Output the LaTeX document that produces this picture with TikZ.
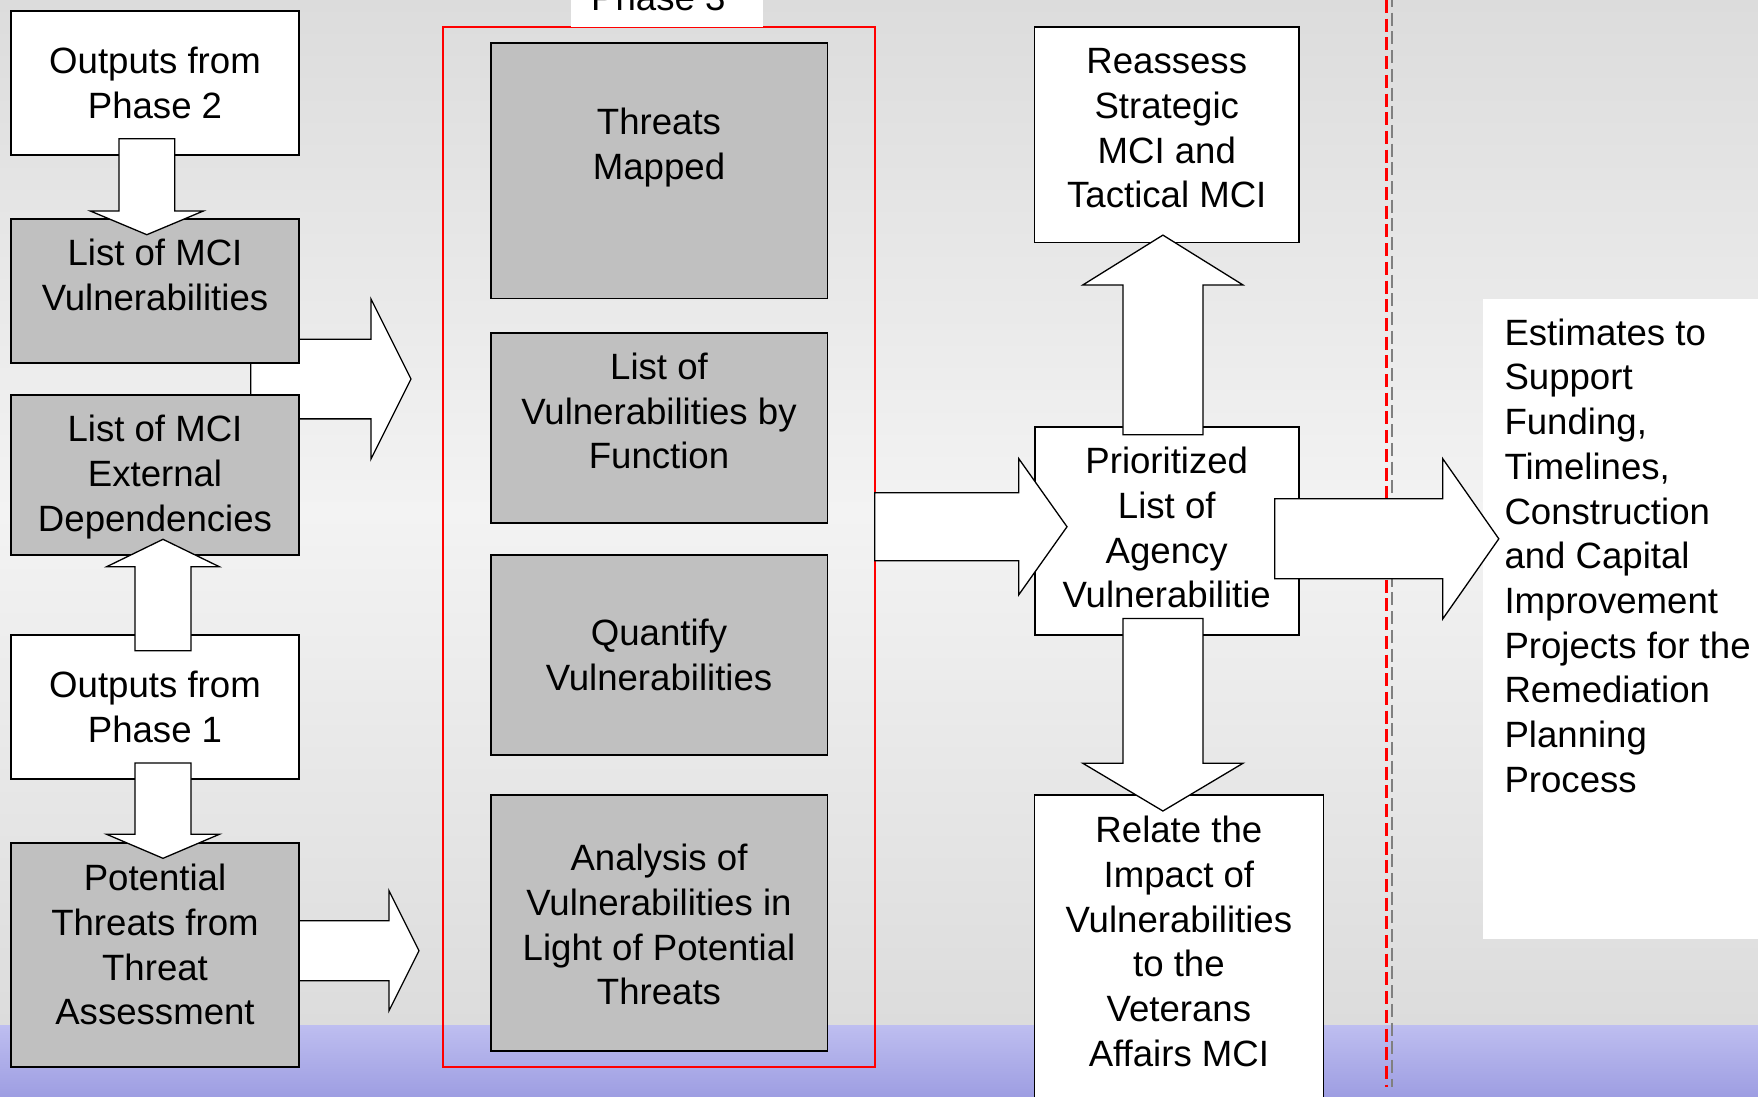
\documentclass[tikz,border=0pt]{standalone}
\usepackage{fontspec}
\setmainfont{Liberation Sans}
\usetikzlibrary{calc}

\definecolor{bgedge}{RGB}{220,220,220}
\definecolor{bgmid}{RGB}{243,243,243}
\definecolor{bandtop}{RGB}{190,190,240}
\definecolor{bandbot}{RGB}{158,158,226}
\definecolor{boxgray}{RGB}{192,192,192}
\definecolor{dashgray}{RGB}{128,128,128}

\pgfdeclarelayer{bg}
\pgfdeclarelayer{back}
\pgfsetlayers{bg,back,main}

\newcommand\bigfont{\fontsize{36.6}{44.7}\selectfont}
% block arrow: from, tip, half shaft, half head, head length
\newcommand\blockarr[5]{%
\coordinate (hb) at ($(#2)!#5pt!(#1)$);
\draw[blockarrow] ($(#1)!#3pt!90:(#2)$) -- ($(hb)!#3pt!90:(#2)$) -- ($(hb)!#4pt!90:(#2)$) -- (#2)
  -- ($(hb)!#4pt!-90:(#2)$) -- ($(hb)!#3pt!-90:(#2)$) -- ($(#1)!#3pt!-90:(#2)$) -- cycle;
}

\tikzset{
box/.style={draw=black, line width=1.6pt, minimum width=288pt, inner sep=0pt, outer sep=0pt, align=center, font=\bigfont},
graybox/.style={box, fill=boxgray},
whitebox/.style={box, fill=white},
colbox/.style={graybox, minimum width=336.6pt},
txt/.style={align=center, font=\bigfont, inner sep=0pt},
blockarrow/.style={draw=black, fill=white, line width=1.3pt, line join=miter},
}

\begin{document}
\begin{tikzpicture}[x=1pt, y=-1pt]
\useasboundingbox (0,0) rectangle (1758,1096);

% left column
\node[whitebox, minimum height=143.5pt] (outtwo) at (155,83) {Outputs from\\Phase 2};
\node[graybox, minimum height=144.3pt] (vulnlist) at (155,290.85) {};
\node[txt] (vulnlisttxt) at ([yshift=16pt]vulnlist.center) {List of MCI\\Vulnerabilities};
\node[graybox, minimum height=160pt] (extdep) at (155,474.7) {};
\node[txt] (extdeptxt) at ([yshift=-2.5pt]extdep.center) {List of MCI\\External\\Dependencies};
\node[whitebox, minimum height=144pt] (outone) at (155,706.7) {Outputs from\\Phase 1};
\node[graybox, minimum height=224pt] (threats) at (155,954.7) {};
\node[txt] (threatstxt) at ([yshift=10pt]threats.center) {Potential\\Threats from\\Threat\\Assessment};

% phase 3
\node[colbox, minimum height=255.6pt] (mapped) at (659,170.5) {};
\node[txt] (mappedtxt) at ([yshift=23pt]mapped.center) {Threats\\Mapped};
\node[colbox, minimum height=190.1pt] (byfunc) at (659,428.05) {};
\node[txt] (byfunctxt) at ([yshift=17pt]byfunc.center) {List of\\Vulnerabilities by\\Function};
\node[colbox, minimum height=200.1pt] (quantify) at (659,654.85) {Quantify\\Vulnerabilities};
\node[colbox, minimum height=255.8pt] (analysis) at (659,922.8) {};
\node[txt] (analysistxt) at ([yshift=-2pt]analysis.center) {Analysis of\\Vulnerabilities in\\Light of Potential\\Threats};
\node[draw=red, line width=2pt, minimum width=431.7pt, minimum height=1040pt, inner sep=0pt, outer sep=0pt] (phasethree) at (658.85,546.7) {};
\node[fill=white, minimum width=191.7pt, minimum height=80pt, anchor=south west] (phasethreelbl) at (571,26.7) {};
\node[txt, anchor=base west] (phasethreetxt) at (591,10) {Phase 3};

% right column
\node[whitebox, minimum width=264.5pt, minimum height=215.6pt] (reassess) at (1166.75,134.5) {};
\node[txt] (reassesstxt) at ([yshift=6pt]reassess.center) {Reassess\\Strategic\\MCI and\\Tactical MCI};
\node[whitebox, minimum width=264.1pt, minimum height=207.7pt] (prior) at (1166.75,530.85) {};
\node[txt] (priortxt) at ([yshift=3pt]prior.center) {Prioritized\\List of\\Agency\\Vulnerabilitie};
\node[whitebox, minimum width=288.8pt, minimum height=330pt] (relate) at (1178.9,959.7) {};
\node[txt] (relatetxt) at (1178.9,941.5) {Relate the\\Impact of\\Vulnerabilities\\to the\\Veterans\\Affairs MCI};
\node[fill=white, minimum width=290pt, minimum height=640pt, inner sep=0pt, anchor=north west] (estimates) at (1483,299) {};
\node[txt, align=left, anchor=north west] (estimatestxt) at (1504.3,318.5) {Estimates to\\Support\\Funding,\\Timelines,\\Construction\\and Capital\\Improvement\\Projects for the\\Remediation\\Planning\\Process};

% arrow ends
\coordinate (a1s) at ([xshift=-8.15pt,yshift=16pt]outtwo.south);
\coordinate (a1t) at ([xshift=-8.15pt,yshift=-16pt]vulnlist.north);
\coordinate (a2s) at ([xshift=-48.3pt,yshift=-16pt]vulnlist.south east);
\coordinate (a2t) at ([xshift=160.3pt]a2s);
\coordinate (a3s) at ([xshift=8pt,yshift=-16pt]outone.north);
\coordinate (a3t) at ([xshift=8pt,yshift=15.4pt]extdep.south);
\coordinate (a4s) at ([xshift=8pt,yshift=15.7pt]outone.south);
\coordinate (a4t) at ([xshift=8pt,yshift=-15.6pt]threats.north);
\coordinate (a5s) at ([xshift=-19pt,yshift=4pt]threats.east);
\coordinate (a5t) at ([xshift=120pt,yshift=4pt]threats.east);
\coordinate (a6s) at ([yshift=20pt]phasethree.east);
\coordinate (a6t) at ([xshift=32.3pt,yshift=4.1pt]prior.west);
\coordinate (a7s) at ([xshift=-24.1pt,yshift=-7.95pt]prior.east);
\coordinate (a7t) at ([xshift=224.1pt]a7s);
\coordinate (a8s) at ([xshift=-3.85pt,yshift=-7.7pt]prior.north);
\coordinate (a8t) at ([xshift=-3.85pt,yshift=7.2pt]reassess.south);
\coordinate (a9s) at ([xshift=-3.85pt,yshift=16.3pt]prior.south);
\coordinate (a9t) at ([xshift=-16pt,yshift=-16.3pt]relate.north);

\blockarr{a1s}{a1t}{27.85}{56.5}{23.7}
\blockarr{a3s}{a3t}{28}{56.3}{27.4}
\blockarr{a4s}{a4t}{28}{56.3}{24}
\blockarr{a6s}{a6t}{34}{68}{48.2}
\blockarr{a7s}{a7t}{40}{80}{56}
\blockarr{a8s}{a8t}{40}{80}{49.8}
\blockarr{a9s}{a9t}{40}{80}{47.7}

\begin{pgfonlayer}{back}
\blockarr{a2s}{a2t}{39.85}{80}{40}
\blockarr{a5s}{a5t}{30}{60}{30}
\end{pgfonlayer}

\begin{pgfonlayer}{bg}
\shade[top color=bgedge, bottom color=bgedge, middle color=bgmid] (0,0) rectangle (1758,1025);
\shade[top color=bandtop, bottom color=bandbot] (0,1025) rectangle (1758,1096);
\draw[red, line width=2.5pt, dash pattern=on 13pt off 5.7pt] (1386.5,0) -- (1386.5,1087);
\draw[dashgray, line width=2pt, dash pattern=on 13pt off 5.7pt, dash phase=6pt] (1391.8,0) -- (1391.8,1087);
\end{pgfonlayer}
\end{tikzpicture}
\end{document}
